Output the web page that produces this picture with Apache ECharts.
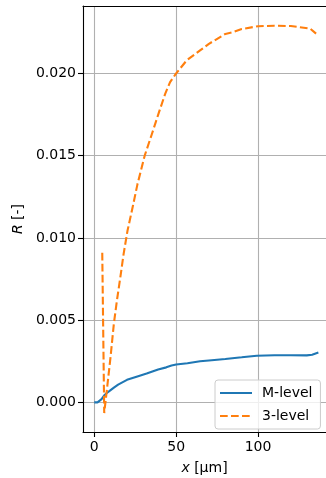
<!DOCTYPE html>
<html>
<head>
<meta charset="utf-8">
<script src="https://cdn.jsdelivr.net/npm/echarts@6/dist/echarts.min.js"></script>
<style>
html,body{margin:0;padding:0;background:#fff;}
#chart{width:326px;height:478px;}
</style>
</head>
<body>
<div id="chart"></div>
<script>
// M-level series (x in µm, R)
const mX = [0, 2, 3.2, 4.5, 6, 7.7, 10, 12, 14.6, 20, 26.8, 32, 39, 44, 47.2, 50, 56.9, 64.6, 70, 80, 90, 99.2, 110, 120, 129.7, 133, 136.8];
const mY = [0, 0, -0.0001, 0.0002, 0.00042, 0.00057, 0.00075, 0.0009, 0.00108, 0.00137, 0.00159, 0.00175, 0.0020, 0.00213, 0.00224, 0.0023, 0.00238, 0.0025, 0.00255, 0.00264, 0.00274, 0.00284, 0.00287, 0.00287, 0.00286, 0.0029, 0.00303];
// 3-level series
const tX = [4.9, 6.1, 8, 10, 12, 14, 15.9, 17.9, 20.3, 23.4, 26.4, 30.8, 35.2, 39.2, 43.3, 46.3, 50, 56.5, 64.6, 70, 80, 84.9, 90, 100, 110, 120, 131.7, 135.4];
const tY = [0.0091, -0.00065, 0.0010, 0.0028, 0.0048, 0.0063, 0.00758, 0.0090, 0.01043, 0.01185, 0.01327, 0.0150, 0.01632, 0.01754, 0.01876, 0.01947, 0.0200, 0.0208, 0.0214, 0.0218, 0.0224, 0.02252, 0.0227, 0.02287, 0.0229, 0.02288, 0.02273, 0.02242];
// tick labels
const xTicks = [0, 50, 100];
const yTicks = [0, 0.005, 0.010, 0.015, 0.020];
const seriesNames = ['M-level', '3-level'];

const font = 'DejaVu Sans';
const chart = echarts.init(document.getElementById('chart'), null, {renderer: 'canvas'});
const zip = (a, b) => a.map((v, i) => [v, b[i]]);
const XMIN = -6.85, XMAX = 141.46, YMIN = -0.0018, YMAX = 0.0241;
const spine = {show: true, onZero: false, lineStyle: {color: '#000', width: 1.1}};

chart.setOption({
  animation: false,
  backgroundColor: '#ffffff',
  grid: {left: 83, right: 0, top: 6, bottom: 46, show: false, outerBoundsMode: 'none', containLabel: false},
  xAxis: [{
    type: 'value', min: XMIN, max: XMAX, position: 'bottom',
    axisLine: spine,
    axisTick: {show: true, length: 5, lineStyle: {color: '#000', width: 1.1}, customValues: xTicks},
    axisLabel: {customValues: xTicks, color: '#000', fontFamily: font, fontSize: 14, margin: 8},
    splitLine: {show: true, lineStyle: {color: '#b0b0b0', width: 1.1}},
    name: '{i|x} [µm]', nameLocation: 'middle', nameGap: 29,
    nameTextStyle: {color: '#000', fontFamily: font, fontSize: 14, rich: {i: {fontStyle: 'italic', fontFamily: font, fontSize: 14, color: '#000'}}}
  }, {
    type: 'value', min: XMIN, max: XMAX, position: 'top',
    axisLine: spine, axisTick: {show: false}, axisLabel: {show: false}, splitLine: {show: false}
  }],
  yAxis: {
    type: 'value', min: YMIN, max: YMAX,
    axisLine: spine,
    axisTick: {show: true, length: 5, lineStyle: {color: '#000', width: 1.1}, customValues: yTicks},
    axisLabel: {customValues: yTicks, color: '#000', fontFamily: font, fontSize: 14, margin: 7,
      formatter: v => Math.abs(v) < 1e-9 ? '0.000' : v.toFixed(3)},
    splitLine: {show: true, lineStyle: {color: '#b0b0b0', width: 1.1}},
    name: '{i|R} [-]', nameLocation: 'middle', nameGap: 55, nameRotate: 90,
    nameTextStyle: {color: '#000', fontFamily: font, fontSize: 14, rich: {i: {fontStyle: 'italic', fontFamily: font, fontSize: 14, color: '#000'}}}
  },
  legend: {
    orient: 'vertical', left: 215, top: 380,
    padding: [5, 8, 5, 5], itemGap: 7, itemWidth: 32, itemHeight: 2.1,
    borderColor: '#cccccc', borderWidth: 1, borderRadius: 3,
    backgroundColor: 'rgba(255,255,255,0.8)',
    textStyle: {color: '#000', fontFamily: font, fontSize: 14, padding: [0, 0, 0, 5], lineHeight: 16},
    data: [
      {name: seriesNames[0], icon: 'path://M0,0H32V2H0Z'},
      {name: seriesNames[1], icon: 'path://M0,0H7.7V2H0Z M11,0H18.7V2H11Z M22,0H29.7V2H22Z M32,0H32.01V2H32Z'}
    ]
  },
  series: [
    {name: seriesNames[0], type: 'line', data: zip(mX, mY), symbol: 'none', smooth: false,
     lineStyle: {color: '#1f77b4', width: 2.1}, itemStyle: {color: '#1f77b4'}},
    {name: seriesNames[1], type: 'line', data: zip(tX, tY), symbol: 'none', smooth: false,
     lineStyle: {color: '#ff7f0e', width: 2.1, type: [7.7, 3.3]}, itemStyle: {color: '#ff7f0e'}}
  ]
});
</script>
</body>
</html>
